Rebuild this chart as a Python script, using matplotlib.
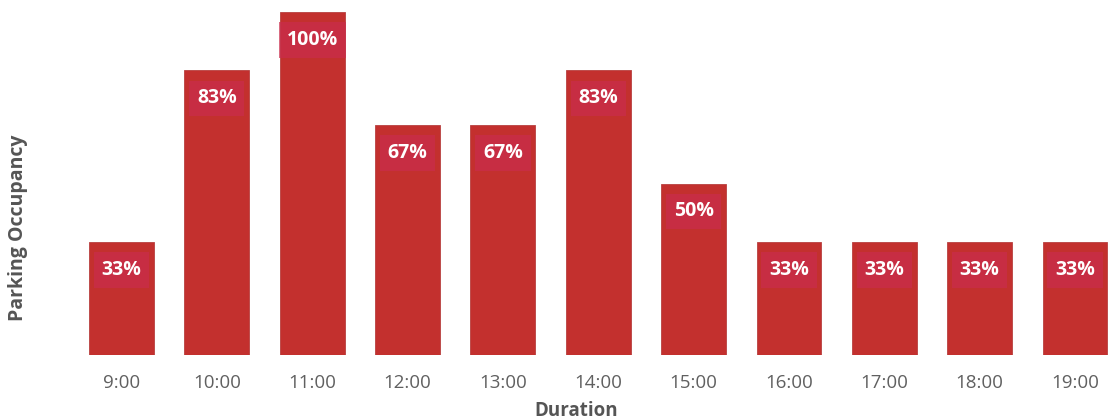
import matplotlib
matplotlib.use("Agg")
import matplotlib.pyplot as plt

hours = ["9:00", "10:00", "11:00", "12:00", "13:00", "14:00",
         "15:00", "16:00", "17:00", "18:00", "19:00"]
occupancy = [33, 83, 100, 67, 67, 83, 50, 33, 33, 33, 33]

W, H, DPI = 1117, 420, 100
fig = plt.figure(figsize=(W / DPI, H / DPI), dpi=DPI)
fig.patch.set_facecolor("white")

ax = fig.add_axes([80 / W, 65 / H, (W - 80) / W, 350 / H])
ax.set_facecolor("white")

x = list(range(len(hours)))
ax.bar(x, occupancy, width=0.68, color="#c3302e", edgecolor="#b8403f",
       linewidth=0.6, zorder=2)

# value tags sit just under the top of each bar
for xi, v in zip(x, occupancy):
    ax.annotate(f"{v}%", xy=(xi, v), xytext=(0, -28), textcoords="offset pixels",
                ha="center", va="center", color="white", fontsize=14,
                fontweight="bold", family="Open Sans", zorder=4,
                bbox=dict(boxstyle="square,pad=0.4", facecolor="#c92c4c",
                          edgecolor="none", alpha=0.7))

ax.set_xlim(-0.435, 10.44)
ax.set_ylim(0, 100 * 350 / 343)
ax.set_xticks(x)
ax.set_xticklabels(hours, family="Open Sans", fontsize=13.5, color="#606060")
ax.tick_params(axis="x", length=0, pad=14)
ax.set_yticks([])
for s in ax.spines.values():
    s.set_visible(False)

fig.text(576 / W, 9 / H, "Duration", ha="center", va="center",
         family="Open Sans", fontweight="bold", fontsize=13.5, color="#555555")
fig.text(18 / W, 192 / H, "Parking Occupancy", ha="center", va="center",
         rotation=90, family="Open Sans", fontweight="bold", fontsize=14,
         color="#555555")

fig.savefig("out.png", dpi=DPI, facecolor="white")
